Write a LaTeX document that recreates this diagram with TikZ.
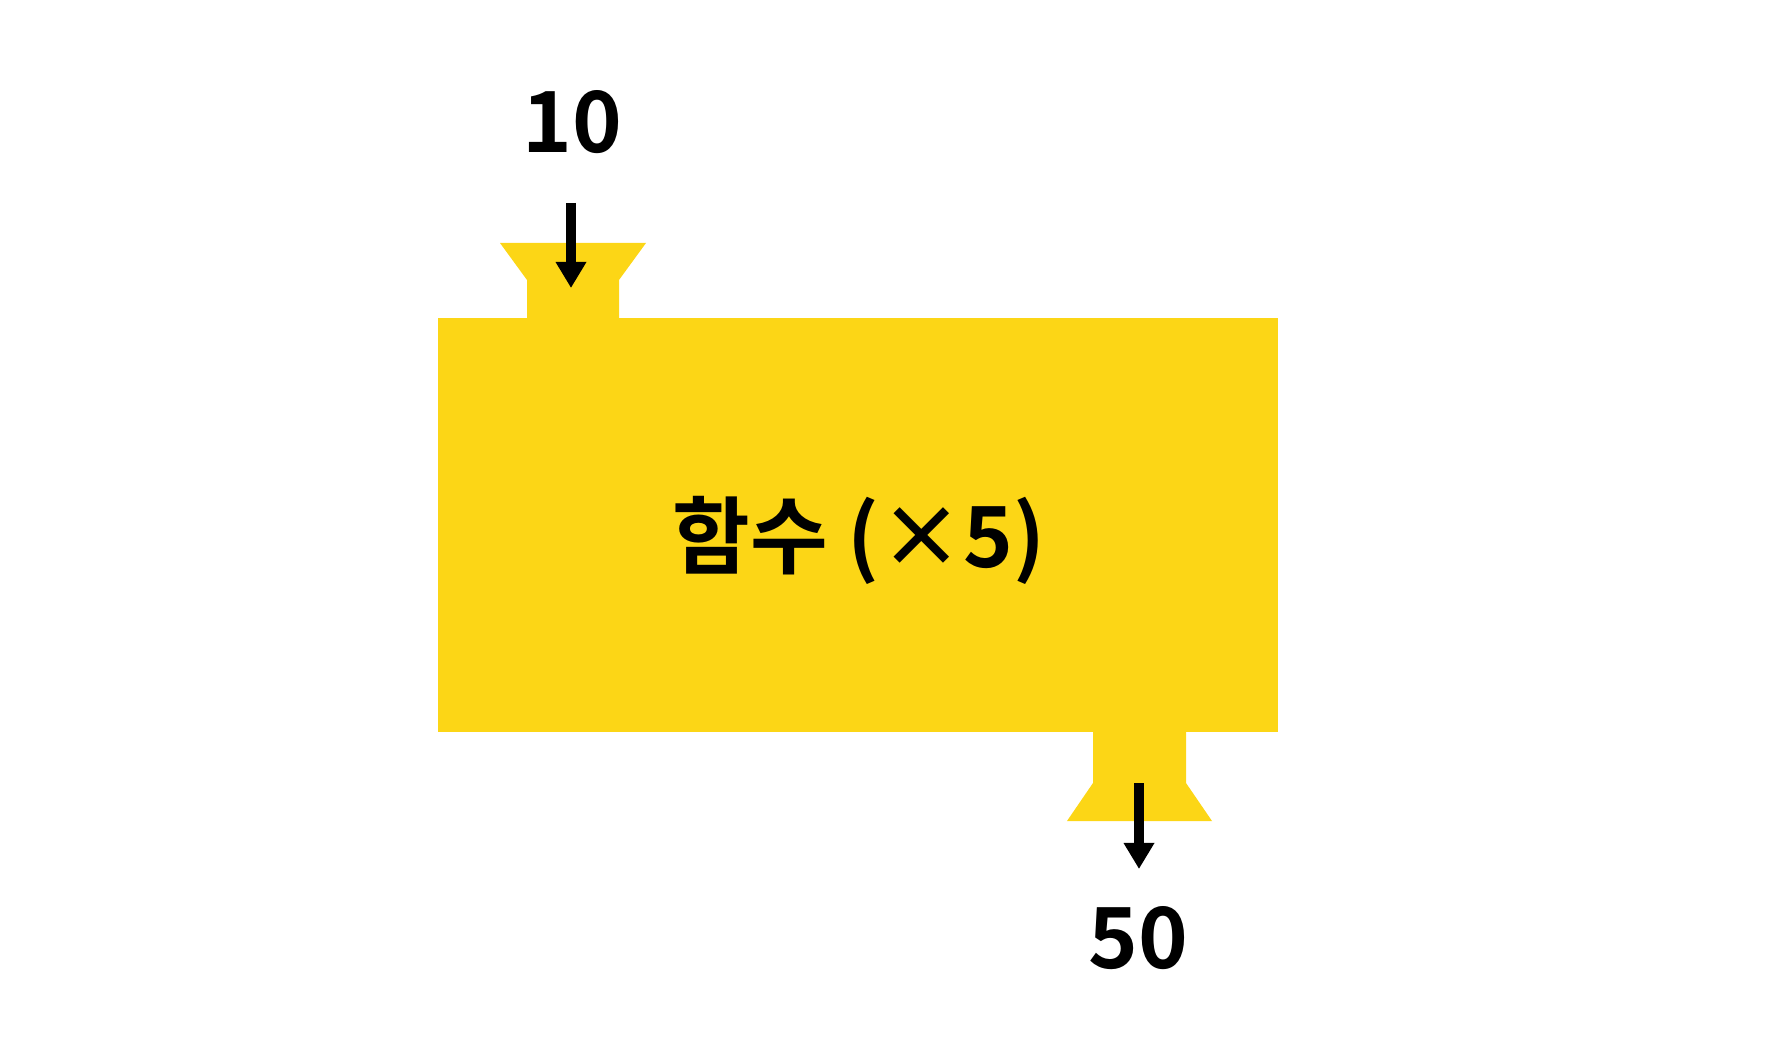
\documentclass[tikz,border=0pt]{standalone}
\usepackage{fontspec}
\setmainfont{Noto Sans CJK KR}[BoldFont={Noto Sans CJK KR Bold}]
\usepackage{tikz}
\usetikzlibrary{positioning, arrows.meta}

\definecolor{fnyellow}{RGB}{252,214,22}

\tikzset{
    numlabel/.style={font=\fontsize{24}{28}\selectfont\bfseries, inner sep=0pt, anchor=base},
    flowarrow/.style={line width=0.1cm, -{Triangle[length=0.26cm, width=0.29cm]}},
}

\begin{document}
\begin{tikzpicture}[x=0.01cm, y=-0.01cm]
    \useasboundingbox (0,0) rectangle (1772,1064);

    % machine body with its in and out funnels
    \node (fn) [rectangle, fill=fnyellow, minimum width=8.4cm, minimum height=4.14cm, inner sep=0pt] at (858,525) {};
    \fill [fnyellow] (500,243) -- (646,243) -- (619,280) -- (619,320) -- (527,320) -- (527,280) -- cycle;
    \fill [fnyellow] (1093,730) -- (1186,730) -- (1186,783) -- (1212,821) -- (1067,821) -- (1093,783) -- cycle;
    \node (fnlabel) [numlabel] at (859,568) {함수 (×5)};

    % input and output values
    \node (input) [numlabel] at (572,153) {10};
    \node (output) [numlabel] at (1138,968) {50};

    \coordinate (inStart) at (571,203);
    \coordinate (inEnd) at (571,288);
    \coordinate (outStart) at (1139,783);
    \coordinate (outEnd) at (1139,869);

    \draw [flowarrow] (inStart) -- (inEnd);
    \draw [flowarrow] (outStart) -- (outEnd);
\end{tikzpicture}
\end{document}
